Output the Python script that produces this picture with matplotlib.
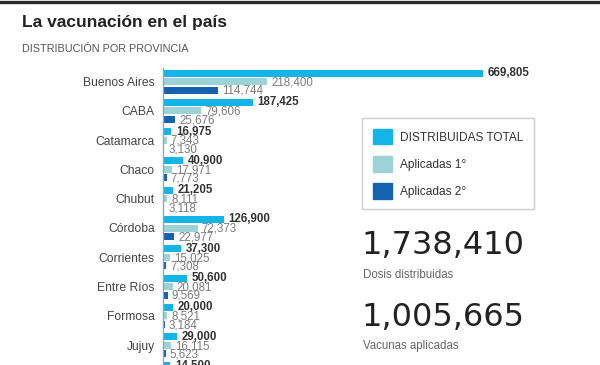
import matplotlib.pyplot as plt
import numpy as np
from matplotlib.patches import Patch

# datos por provincia
provincias = ['Buenos Aires', 'CABA', 'Catamarca', 'Chaco', 'Chubut', 'Córdoba',
              'Corrientes', 'Entre Ríos', 'Formosa', 'Jujuy', 'La Pampa']
distribuidas = [669805, 187425, 16975, 40900, 21205, 126900, 37300, 50600, 20000, 29000, 14500]
aplicadas_1 = [218400, 79606, 7343, 17971, 8111, 72373, 15025, 20081, 8521, 16115, np.nan]
aplicadas_2 = [114744, 25676, 3130, 7773, 3118, 22977, 7308, 9569, 3184, 5623, np.nan]

total_distribuidas = '1,738,410'
total_aplicadas = '1,005,665'

c_dist = '#14b4e8'
c_ap1 = '#9dd3d6'
c_ap2 = '#1462b0'

fig = plt.figure(figsize=(6, 3.65), dpi=100)
W, H = 600, 365

# linea superior
fig.add_artist(plt.Line2D([0, 1], [1 - 1.5 / H, 1 - 1.5 / H], color='#2b2b2b', lw=2.4))

fig.text(22 / W, 1 - 22 / H, 'La vacunación en el país', fontsize=12.5, fontweight='bold',
         color='#222222', family='Liberation Sans', va='center', ha='left')
fig.text(22 / W, 1 - 49 / H, 'DISTRIBUCIÓN POR PROVINCIA', fontsize=7.8, color='#555555',
         family='Liberation Sans', va='center', ha='left')

ax = fig.add_axes([163 / W, 0, 437 / W, (H - 68) / H])
paso = 29.3
n = len(provincias)
y = np.arange(n)
h = 7 / paso
d = 8.5 / paso

ax.barh(y - d, distribuidas, height=h, color=c_dist)
ax.barh(y, aplicadas_1, height=h, color=c_ap1)
ax.barh(y + d, aplicadas_2, height=h, color=c_ap2)

for i in range(n):
    ax.annotate(f'{distribuidas[i]:,}', (distribuidas[i], i - d), xytext=(3.5, 0),
                textcoords='offset points', va='center', ha='left', fontsize=8.3,
                fontweight='bold', color='#333333', family='Liberation Sans',
                annotation_clip=False)
    if not np.isnan(aplicadas_1[i]):
        ax.annotate(f'{int(aplicadas_1[i]):,}', (aplicadas_1[i], i + 0.03), xytext=(3, 0),
                    textcoords='offset points', va='center', ha='left', fontsize=8.3,
                    color='#7a7a7a', family='Liberation Sans')
    if not np.isnan(aplicadas_2[i]):
        ax.annotate(f'{int(aplicadas_2[i]):,}', (aplicadas_2[i], i + d + 0.03), xytext=(3, 0),
                    textcoords='offset points', va='center', ha='left', fontsize=8.3,
                    color='#7a7a7a', family='Liberation Sans')

ax.set_yticks(y)
ax.set_yticklabels(provincias, fontsize=8.7, color='#444444', family='Liberation Sans')
ax.tick_params(axis='y', length=0, pad=6)
ax.set_xticks([])
top = -13.5 / paso
ax.set_ylim(top + (H - 68) / paso, top)
ax.set_xlim(0, max(distribuidas) * 437 / 320)
for s in ['top', 'right', 'bottom']:
    ax.spines[s].set_visible(False)
ax.spines['left'].set_color('#8fa7ba')
ax.spines['left'].set_linewidth(1)
ax.patch.set_alpha(0)

handles = [Patch(color=c_dist), Patch(color=c_ap1), Patch(color=c_ap2)]
leg = fig.legend(handles, ['DISTRIBUIDAS TOTAL', 'Aplicadas 1°', 'Aplicadas 2°'],
                 loc='upper left', bbox_to_anchor=(362 / W, 1 - 118 / H), frameon=True,
                 fancybox=False, edgecolor='#c4c4c4',
                 prop={'family': 'Liberation Sans', 'size': 8.6},
                 handlelength=1.65, handleheight=1.65, labelspacing=0.95,
                 borderpad=0.9, handletextpad=0.6, borderaxespad=0)
leg.get_frame().set_linewidth(1)
for t in leg.get_texts():
    t.set_color('#333333')

fig.text(361 / W, 1 - 246 / H, total_distribuidas, fontsize=23, color='#222222',
         family='DejaVu Sans', va='center', ha='left')
fig.text(363 / W, 1 - 275 / H, 'Dosis distribuidas', fontsize=8.3, color='#666666',
         family='Liberation Sans', va='center', ha='left')
fig.text(361 / W, 1 - 317 / H, total_aplicadas, fontsize=23, color='#222222',
         family='DejaVu Sans', va='center', ha='left')
fig.text(363 / W, 1 - 346 / H, 'Vacunas aplicadas', fontsize=8.3, color='#666666',
         family='Liberation Sans', va='center', ha='left')

fig.savefig('out.png', dpi=100, facecolor='white')
